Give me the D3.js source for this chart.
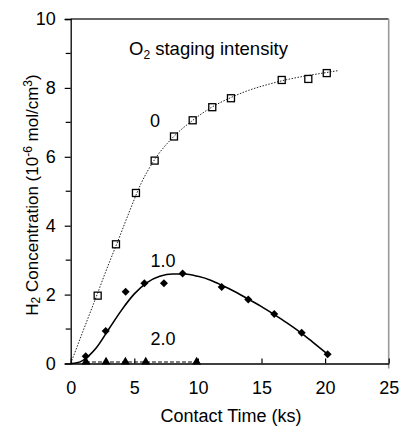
<!DOCTYPE html>
<html>
<head>
<meta charset="utf-8">
<script src="https://cdn.jsdelivr.net/npm/d3@7/dist/d3.min.js"></script>
<style>
  html, body { margin: 0; padding: 0; background: #fff; }
  svg text { font-family: Arial, "Liberation Sans", Helvetica, sans-serif; fill: #000; }
</style>
</head>
<body>
<svg id="chart" width="400" height="426"></svg>
<script>
// Measured H2 concentration (10^-6 mol/cm3) vs contact time (ks)
const timeStage0 = [2.12, 3.56, 5.13, 6.6, 8.12, 9.59, 11.13, 12.6, 16.59, 18.68, 20.13];
const concStage0 = [1.97, 3.46, 4.95, 5.89, 6.59, 7.06, 7.44, 7.7, 8.23, 8.26, 8.43];

const timeStage1 = [1.18, 2.75, 4.32, 5.79, 7.33, 8.8, 11.87, 13.96, 16.0, 18.16, 20.2];
const concStage1 = [0.21, 0.94, 2.08, 2.33, 2.33, 2.61, 2.22, 1.86, 1.44, 0.89, 0.27];

const timeStage2 = [1.2, 2.78, 4.3, 5.9, 9.9];
const concStage2 = [0, 0, 0, 0, 0];

// Fitted trend curves
const fitTime0 = [0, 1, 2, 3, 3.6, 4.5, 5.5, 6.6, 8, 9.6, 11, 12.6, 14, 15.5, 17, 18.5, 20, 21];
const fitConc0 = [0, 0.97, 1.93, 2.9, 3.45, 4.3, 5.2, 5.92, 6.55, 7.06, 7.42, 7.72, 7.93, 8.1, 8.24, 8.35, 8.44, 8.5];

const fitTime1 = [0, 0.5, 1, 1.5, 2, 3, 4, 5, 6, 7, 8, 9, 10, 11, 12, 13, 14, 15, 16, 17, 18, 19, 20.2];
const fitConc1 = [0, 0.02, 0.1, 0.25, 0.45, 1.0, 1.55, 2.02, 2.35, 2.53, 2.6, 2.6, 2.53, 2.42, 2.25, 2.07, 1.86, 1.65, 1.42, 1.18, 0.92, 0.63, 0.27];

const xTicks = [0, 5, 10, 15, 20, 25];
const yTicks = [0, 2, 4, 6, 8, 10];
const yMinorTicks = [1, 3, 5, 7, 9];

const svg = d3.select("#chart");
const plotL = 70.7, plotR = 388.7, plotT = 19, plotB = 363.5;

const x = d3.scaleLinear().domain([0, 25]).range([plotL, plotR]);
const y = d3.scaleLinear().domain([0, 10]).range([plotB, plotT]);

// frame: top (dark) and right (grey)
svg.append("line").attr("x1", plotL).attr("x2", plotR).attr("y1", plotT).attr("y2", plotT)
  .attr("stroke", "#333").attr("stroke-width", 1.3);
svg.append("line").attr("x1", plotR).attr("x2", plotR).attr("y1", plotT).attr("y2", plotB + 5)
  .attr("stroke", "#999").attr("stroke-width", 1.6);

// y axis
const yAxis = d3.axisLeft(y).tickValues(yTicks).tickSize(6).tickPadding(9).tickFormat(d3.format("d"));
const gy = svg.append("g").attr("transform", `translate(${plotL},0)`).call(yAxis);
gy.select(".domain").attr("stroke", "#000").attr("stroke-width", 1.3);
gy.selectAll(".tick line").attr("stroke", "#000").attr("stroke-width", 1.2);
gy.selectAll(".tick text").style("font-size", "18px").attr("fill", "#000");
gy.selectAll(".minor").data(yMinorTicks).enter().append("line")
  .attr("x1", -5).attr("x2", 0).attr("y1", d => y(d)).attr("y2", d => y(d))
  .attr("stroke", "#000").attr("stroke-width", 1.2);

// x axis, ticks pointing inward
const xAxis = d3.axisBottom(x).tickValues(xTicks).tickSizeInner(-5).tickSizeOuter(0).tickPadding(18).tickFormat(d3.format("d"));
const gx = svg.append("g").attr("transform", `translate(0,${plotB})`).call(xAxis);
gx.select(".domain").attr("stroke", "#000").attr("stroke-width", 1.5);
gx.selectAll(".tick line").attr("stroke", "#000").attr("stroke-width", 1.2);
gx.selectAll(".tick text").style("font-size", "18px").attr("fill", "#000");

// trend lines
const line = d3.line().x(d => x(d[0])).y(d => y(d[1])).curve(d3.curveMonotoneX);
svg.append("path").datum(fitTime0.map((t, i) => [t, fitConc0[i]]))
  .attr("d", line).attr("fill", "none").attr("stroke", "#222")
  .attr("stroke-width", 1).attr("stroke-dasharray", "1.5,1.5");
svg.append("path").datum(fitTime1.map((t, i) => [t, fitConc1[i]]))
  .attr("d", line).attr("fill", "none").attr("stroke", "#000").attr("stroke-width", 1.6);
svg.append("path").datum(timeStage2.map((t, i) => [t, concStage2[i]]))
  .attr("d", d3.line().x(d => x(d[0])).y(d => y(d[1]) - 1.5))
  .attr("fill", "none").attr("stroke", "#000").attr("stroke-width", 1).attr("stroke-dasharray", "4,2");

// markers
svg.append("g").selectAll("rect").data(timeStage0.map((t, i) => [t, concStage0[i]])).enter()
  .append("rect")
  .attr("x", d => x(d[0]) - 3.5).attr("y", d => y(d[1]) - 3.5)
  .attr("width", 7).attr("height", 7)
  .attr("fill", "none").attr("stroke", "#000").attr("stroke-width", 1.3);

svg.append("g").selectAll("path").data(timeStage1.map((t, i) => [t, concStage1[i]])).enter()
  .append("path").attr("d", d3.symbol().type(d3.symbolSquare).size(32))
  .attr("transform", d => `translate(${x(d[0])},${y(d[1])}) rotate(45)`)
  .attr("fill", "#000");

svg.append("g").selectAll("path").data(timeStage2.map((t, i) => [t, concStage2[i]])).enter()
  .append("path").attr("d", "M0,-4.8L4.5,3L-4.5,3Z")
  .attr("transform", d => `translate(${x(d[0])},${y(d[1]) - 2})`)
  .attr("fill", "#000");

// series labels
const lbl = (tx, ty, s) => svg.append("text").attr("x", tx).attr("y", ty)
  .attr("text-anchor", "middle").style("font-size", "18px").text(s);
lbl(155, 127, "0");
lbl(163, 266.5, "1.0");
lbl(163, 345, "2.0");

// legend heading
const head = svg.append("text").attr("x", 129).attr("y", 55).style("font-size", "18.5px");
head.append("tspan").text("O");
head.append("tspan").attr("dy", 4).style("font-size", "12px").text("2");
head.append("tspan").attr("dy", -4).text(" staging intensity");

// axis titles
svg.append("text").attr("x", 231).attr("y", 422).attr("text-anchor", "middle")
  .style("font-size", "18px").text("Contact Time (ks)");

const yt = svg.append("text").attr("transform", "translate(38,195) rotate(-90)")
  .attr("text-anchor", "middle").style("font-size", "17px");
yt.append("tspan").text("H");
yt.append("tspan").attr("dy", 1.5).style("font-size", "12px").text("2");
yt.append("tspan").attr("dy", -1.5).text(" Concentration (10");
yt.append("tspan").attr("dy", -6.5).style("font-size", "12px").text("-6");
yt.append("tspan").attr("dy", 6.5).text(" mol/cm");
yt.append("tspan").attr("dy", -6.5).style("font-size", "12px").text("3");
yt.append("tspan").attr("dy", 6.5).text(")");
</script>
</body>
</html>
